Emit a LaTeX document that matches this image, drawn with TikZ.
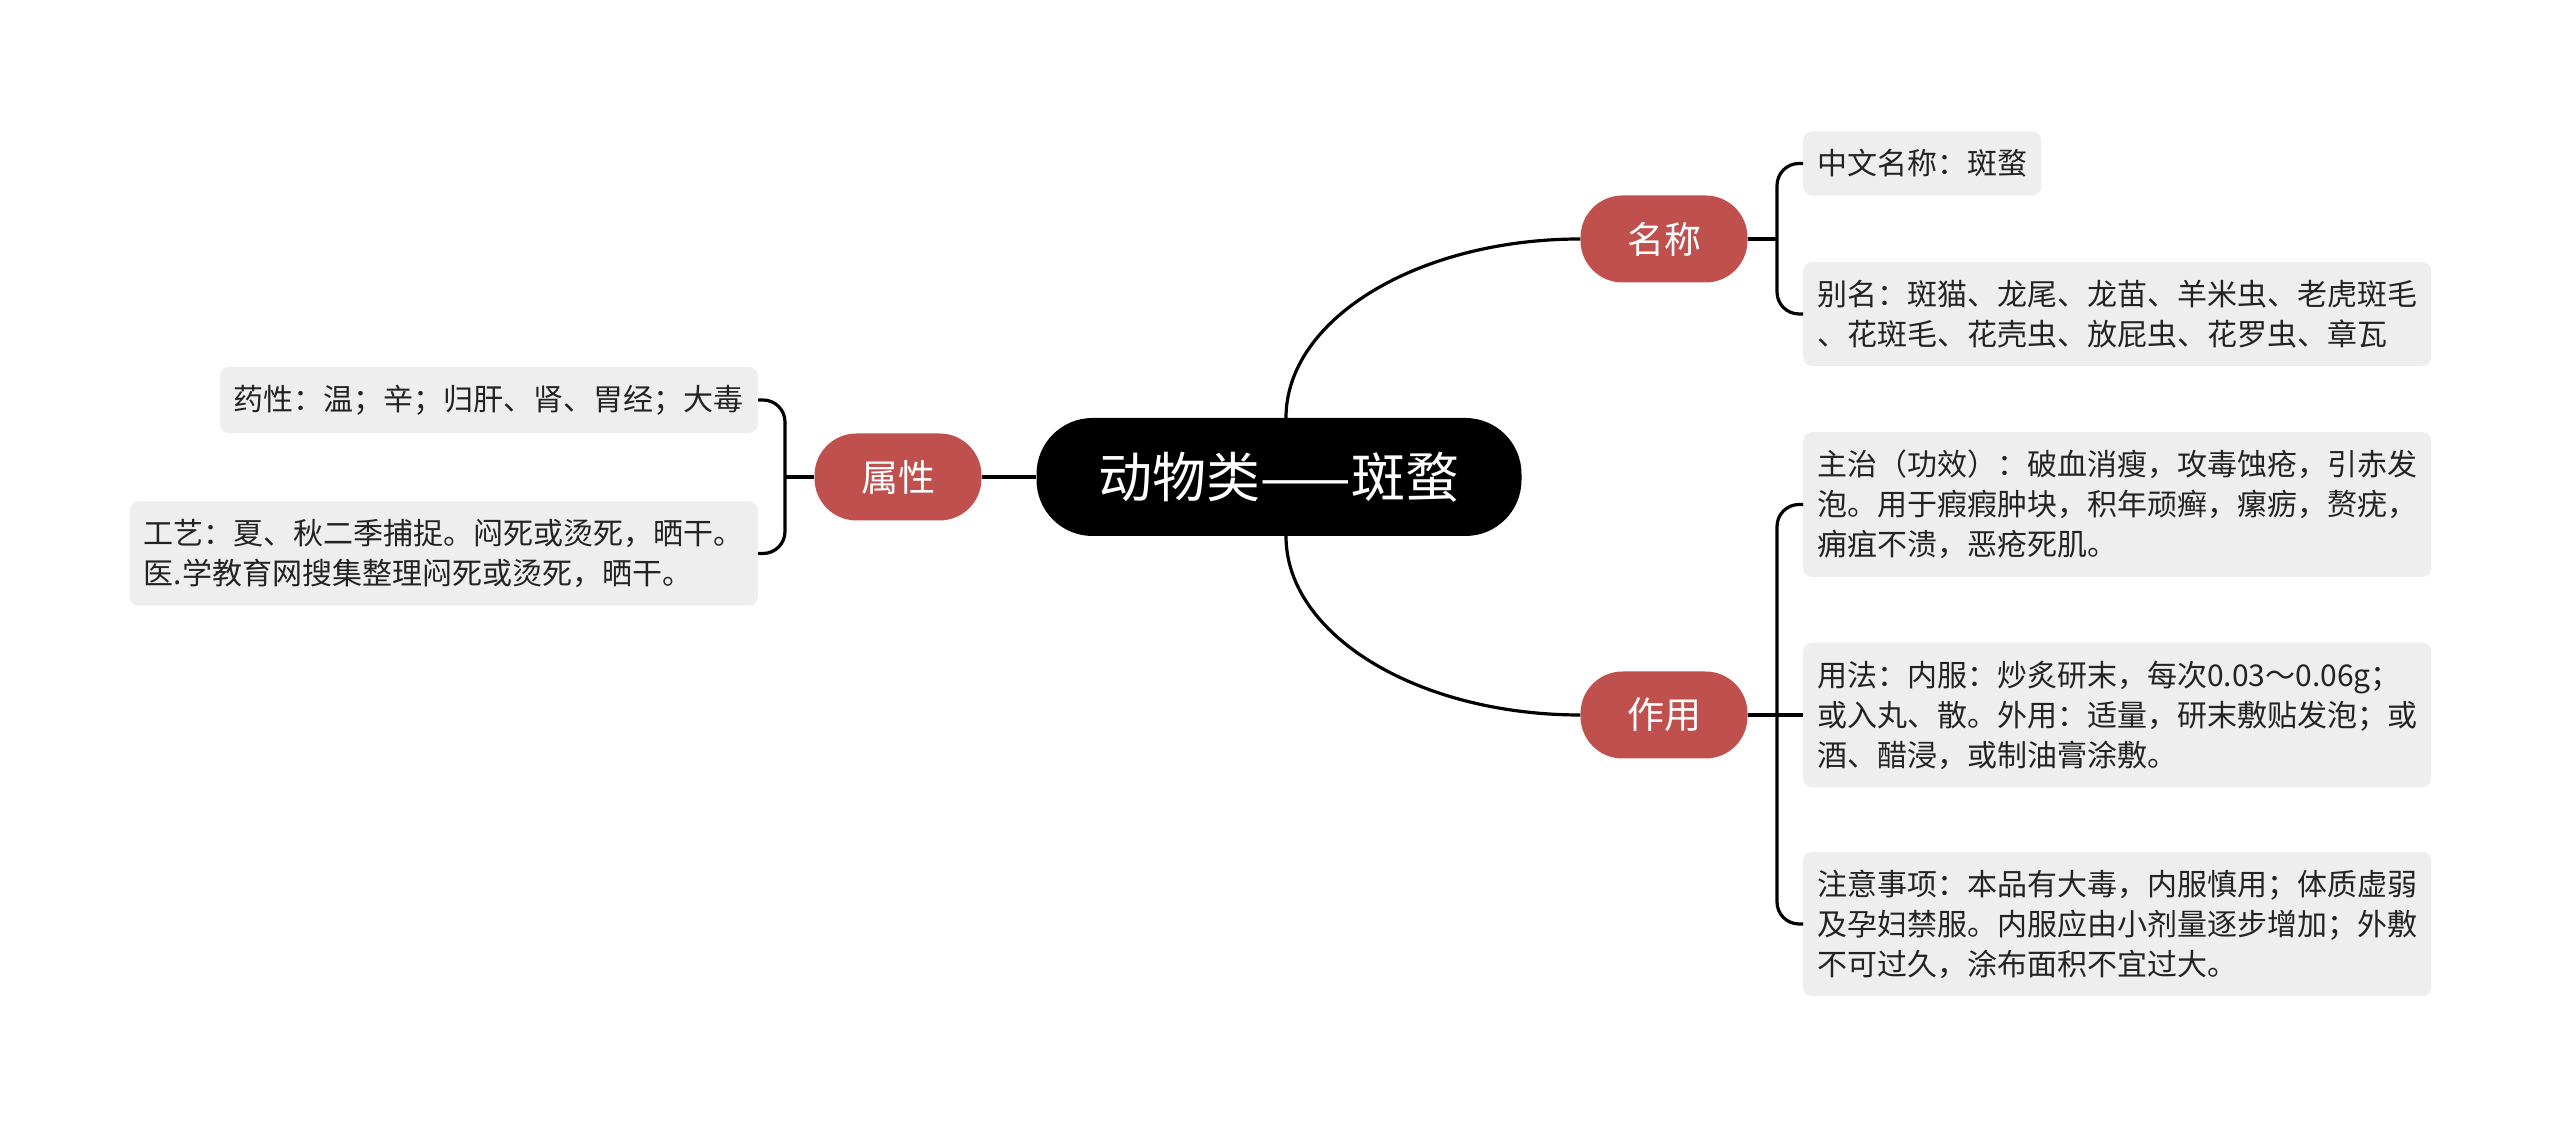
\documentclass[tikz,border=0pt]{standalone}
\usepackage{fontspec}
\setmainfont{Noto Sans CJK SC}
\usetikzlibrary{calc}
\definecolor{branchred}{RGB}{192,80,77}
\definecolor{leafgray}{RGB}{238,238,238}
\definecolor{leaftext}{RGB}{35,35,35}
\begin{document}
\begin{tikzpicture}[x=1pt,y=1pt,
  conn/.style={line width=3.2pt, draw=black},
  rootbox/.style={fill=black, text=white, rounded corners=56pt, minimum width=485pt, minimum height=118pt, font=\fontsize{54}{60}\selectfont, inner sep=0pt},
  branchbox/.style={fill=branchred, text=white, rounded corners=42pt, minimum width=167pt, minimum height=87pt, font=\fontsize{37}{44}\selectfont, inner sep=0pt},
  leafbox/.style={fill=leafgray, text=leaftext, rounded corners=9pt, inner xsep=14pt, inner ysep=18pt, align=left, font=\fontsize{30}{40}\selectfont}
]
\useasboundingbox (0,0) rectangle (2560,1126);
\fill[white] (0,0) rectangle (2560,1126);

% central and branch nodes
\node[rootbox] (root) at (1279,649) {动物类——斑蝥};
\node[branchbox] (mc) at (1664,887) {名称};
\node[branchbox] (zy) at (1664,411) {作用};
\node[branchbox] (sx) at (898,649) {属性};

% leaves
\node[leafbox, anchor=west] (l1) at (1803,962.5) {中文名称：斑蝥};
\node[leafbox, anchor=west] (l2) at (1803,812) {别名：斑猫、龙尾、龙苗、羊米虫、老虎斑毛\\、花斑毛、花壳虫、放屁虫、花罗虫、章瓦};
\node[leafbox, anchor=west] (l3) at (1803,621.5) {主治（功效）：破血消瘦，攻毒蚀疮，引赤发\\泡。用于瘕瘕肿块，积年顽癣，瘰疬，赘疣，\\痈疽不溃，恶疮死肌。};
\node[leafbox, anchor=west] (l4) at (1803,411) {用法：内服：炒炙研末，每次0.03～0.06g；\\或入丸、散。外用：适量，研末敷贴发泡；或\\酒、醋浸，或制油膏涂敷。};
\node[leafbox, anchor=west] (l5) at (1803,202) {注意事项：本品有大毒，内服慎用；体质虚弱\\及孕妇禁服。内服应由小剂量逐步增加；外敷\\不可过久，涂布面积不宜过大。};
\node[leafbox, anchor=east] (l6) at (758,726) {药性：温；辛；归肝、肾、胃经；大毒};
\node[leafbox, anchor=east] (l7) at (758,572.5) {工艺：夏、秋二季捕捉。闷死或烫死，晒干。\\医.学教育网搜集整理闷死或烫死，晒干。};

% bracket junctions
\coordinate (jmc) at (1777,887);
\coordinate (jzy) at (1777,411);
\coordinate (jsx) at (785,649);

% main connectors
\draw[conn] (root.west) -- (sx.east);
\draw[conn] ([xshift=7pt]root.north) .. controls +(0,99) and +(-162,0) .. (mc.west);
\draw[conn] ([xshift=7pt]root.south) .. controls +(0,-99) and +(-162,0) .. (zy.west);

% brackets
\draw[conn] (mc.east) -- (jmc);
\draw[conn, rounded corners=22pt] (l1.west) -| (jmc) |- (l2.west);
\draw[conn] (zy.east) -- (l4.west);
\draw[conn, rounded corners=22pt] (l3.west) -| (jzy) |- (l5.west);
\draw[conn] (sx.west) -- (jsx);
\draw[conn, rounded corners=22pt] (l6.east) -| (jsx) |- (l7.east);
\end{tikzpicture}
\end{document}
